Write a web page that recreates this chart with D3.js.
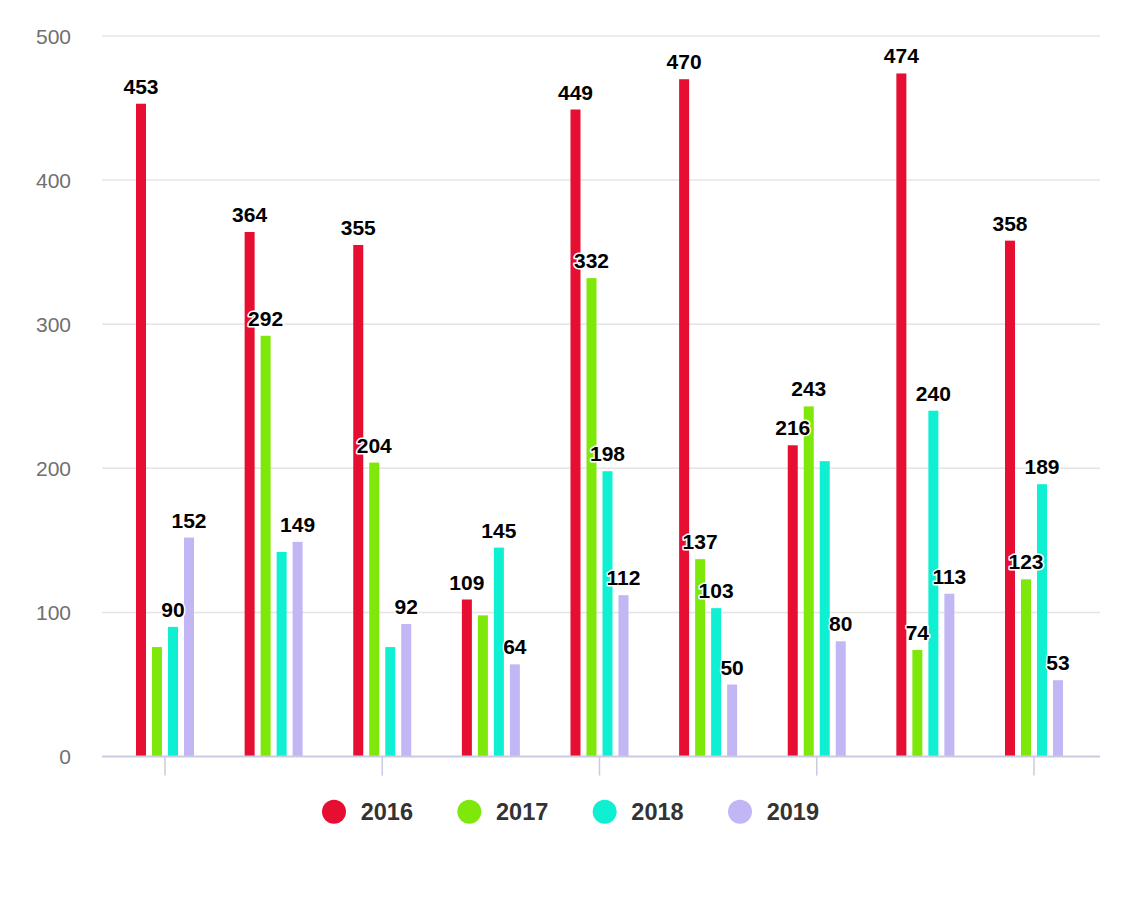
<!DOCTYPE html>
<html><head><meta charset="utf-8">
<script src="https://cdn.jsdelivr.net/npm/d3@7/dist/d3.min.js"></script>
<style>
html,body{margin:0;padding:0;background:#fff;}
svg{display:block;font-family:"Liberation Sans",Arial,sans-serif;}
</style></head>
<body>
<svg id="chart" width="1136" height="919"></svg>
<script>
const categories = ["1","2","3","4","5","6","7","8","9"];
const seriesNames = ["2016","2017","2018","2019"];
const seriesColors = ["#e60e31","#7fe80b","#0ff0d2","#c2b6f4"];
const v2016 = [453,364,355,109,449,470,216,474,358];
const v2017 = [76,292,204,98,332,137,243,74,123];
const v2018 = [90,142,76,145,198,103,205,240,189];
const v2019 = [152,149,92,64,112,50,80,113,53];
const yTicks = [0,100,200,300,400,500];

const seriesValues = [v2016,v2017,v2018,v2019];
const svg = d3.select("#chart");

const plotLeft = 102, plotRight = 1100, yBottom = 756.6, yTop = 36;
const x = d3.scaleBand().domain(categories).range([110.7, 1088.3]);
const barW = 10, barStep = 16;
const xs = d3.scaleBand().domain(seriesNames).range([-2*barStep, 2*barStep]);
const y = d3.scaleLinear().domain([0,500]).range([yBottom, yTop]);

// grid
svg.append("g").selectAll("line").data(yTicks.filter(t=>t>0)).join("line")
  .attr("x1",plotLeft).attr("x2",plotRight)
  .attr("y1",d=>y(d)).attr("y2",d=>y(d))
  .attr("stroke","#e4e4e4").attr("stroke-width",1.5);

// y labels
const yAxis = d3.axisLeft(y).tickValues(yTicks).tickSize(0).tickPadding(0);
const yg = svg.append("g").attr("transform","translate(71,0)").call(yAxis);
yg.select(".domain").remove();
yg.selectAll("text").attr("fill","#707070").style("font-size","21px")
  .style("font-family","'Liberation Sans',Arial,sans-serif").attr("dy","0.35em");

// bars
const data = [];
seriesNames.forEach((s,si)=>{
  categories.forEach((c,ci)=>{
    data.push({s, si, c, v: seriesValues[si][ci]});
  });
});
svg.append("g").selectAll("rect").data(data).join("rect")
  .attr("x",d=>x(d.c)+x.bandwidth()/2 + xs(d.s) + (barStep-barW)/2)
  .attr("width",barW)
  .attr("y",d=>y(d.v))
  .attr("height",d=>yBottom - y(d.v))
  .attr("fill",d=>seriesColors[d.si]);

// x axis
const xAxis = d3.axisBottom(x).tickValues(categories.filter((c,i)=>i%2===0)).tickSize(19).tickFormat("");
const xg = svg.append("g").attr("transform",`translate(0,${yBottom})`).call(xAxis);
xg.select(".domain").remove();
xg.selectAll(".tick line").attr("stroke","#c9cbe0").attr("stroke-width",1.5);
svg.append("line").attr("x1",plotLeft).attr("x2",plotRight).attr("y1",yBottom).attr("y2",yBottom)
  .attr("stroke","#c9cbe0").attr("stroke-width",2);

// labels with overlap hiding (higher values first)
const lg = svg.append("g");
const labels = lg.selectAll("text").data(data).join("text")
  .attr("x",d=>x(d.c)+x.bandwidth()/2 + xs(d.s) + barStep/2)
  .attr("y",d=>y(d.v)-10)
  .attr("text-anchor","middle")
  .style("font-size","21px").style("font-weight","bold")
  .attr("fill","#000").attr("stroke","#fff").attr("stroke-width",3)
  .attr("stroke-linejoin","round").style("paint-order","stroke")
  .text(d=>d.v);
const nodes = labels.nodes().map((n,i)=>({n, d:data[i], b:n.getBBox()}));
nodes.sort((a,b)=>b.d.v-a.d.v);
const placed = [];
const m = 2;
nodes.forEach(o=>{
  const b=o.b;
  const hit = placed.some(p=> b.x < p.x+p.width+m && b.x+b.width+m > p.x && b.y < p.y+p.height+m && b.y+b.height+m > p.y);
  if(hit) d3.select(o.n).remove(); else placed.push(b);
});

// legend
const lx = d3.scalePoint().domain(seriesNames).range([334, 740]);
const leg = svg.append("g").selectAll("g").data(seriesNames).join("g")
  .attr("transform",d=>`translate(${lx(d)},811.7)`);
leg.append("circle").attr("r",12).attr("fill",(d,i)=>seriesColors[i]);
leg.append("text").attr("x",26.7).attr("dy","0.36em").text(d=>d)
  .style("font-size","23.5px").style("font-weight","bold").attr("fill","#333");
</script>
</body></html>
